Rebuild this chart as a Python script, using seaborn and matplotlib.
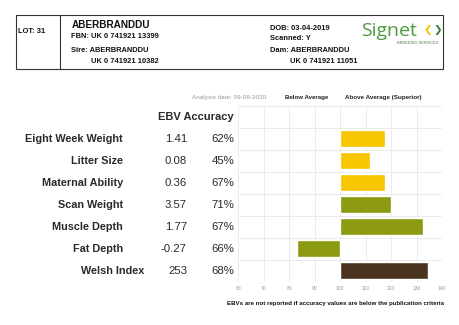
import matplotlib
matplotlib.use("Agg")
import matplotlib.pyplot as plt
import matplotlib.transforms as mtransforms
from matplotlib.patches import Rectangle
from matplotlib.lines import Line2D
from matplotlib.ticker import FixedLocator, FuncFormatter
import seaborn as sns
import pandas as pd

# ---- data ----
traits = ["Eight Week Weight", "Litter Size", "Maternal Ability", "Scan Weight",
          "Muscle Depth", "Fat Depth", "Welsh Index"]
ebv_text = ["1.41", "0.08", "0.36", "3.57", "1.77", "-0.27", "253"]
accuracy_text = ["62%", "45%", "67%", "71%", "67%", "66%", "68%"]
index_values = [117.5, 111.5, 117.5, 120, 132.5, 83, 134.5]
bar_colors = ["#F7C600", "#F7C600", "#F7C600", "#8C9A12", "#8C9A12", "#8C9A12", "#4A3420"]
x_ticks = [60, 70, 80, 90, 100, 110, 120, 130, 140]
baseline = 100

sns.set_theme(style="white")
plt.rcParams["font.family"] = ["Liberation Sans", "DejaVu Sans"]

W, H = 460, 325
fig = plt.figure(figsize=(W / 100, H / 100), dpi=100)
fig.patch.set_facecolor("white")

def fx(px):
    return px / W

def fy(py):
    return 1 - py / H

ax = fig.add_axes([fx(238.3), fy(281.7), fx(442.3) - fx(238.3), fy(105.7) - fy(281.7)])

df = pd.DataFrame({"trait": traits,
                   "dev": [v - baseline for v in index_values]})
sns.barplot(data=df, y="trait", x="dev", hue="trait", palette=bar_colors,
            orient="h", legend=False, width=0.78, ax=ax, saturation=1)

ax.set_xlim(x_ticks[0] - baseline, x_ticks[-1] - baseline)
ax.set_ylim(len(traits) - 0.5, -1.5)
ax.xaxis.set_major_locator(FixedLocator([t - baseline for t in x_ticks]))
ax.xaxis.set_major_formatter(FuncFormatter(lambda v, p: f"{v + baseline:.0f}"))
ax.yaxis.set_major_locator(FixedLocator([i - 0.5 for i in range(-1, len(traits) + 1)]))
ax.set_yticklabels([])
ax.grid(True, color="#e8e8e8", linewidth=0.6)
ax.set_axisbelow(True)
for s in ax.spines.values():
    s.set_visible(False)
ax.tick_params(axis="x", length=0, labelsize=3.6, colors="#999999", pad=3)
ax.tick_params(axis="y", length=0)
ax.set_xlabel("")
ax.set_ylabel("")

# ---- left table ----
tr = mtransforms.blended_transform_factory(fig.transFigure, ax.transData)
tcol = "#2a2a2a"
for i, (t, e, a) in enumerate(zip(traits, ebv_text, accuracy_text)):
    lx = fx(144) if t == "Welsh Index" else fx(123)
    ax.text(lx, i, t, transform=tr, ha="right", va="center", fontsize=7.8,
            fontweight="bold", color=tcol, clip_on=False)
    ax.text(fx(187), i, e, transform=tr, ha="right", va="center", fontsize=8.2,
            color=tcol, clip_on=False)
    ax.text(fx(234), i, a, transform=tr, ha="right", va="center", fontsize=8.2,
            color=tcol, clip_on=False)
ax.text(fx(234), -1, "EBV Accuracy", transform=tr, ha="right", va="center",
        fontsize=8.0, fontweight="bold", color=tcol, clip_on=False)

fig.text(fx(192), fy(97.5), "Analysis date: 09-08-2020", fontsize=4.6,
         color="#999999", va="center")
fig.text(fx(285), fy(97.5), "Below Average", fontsize=4.4, fontweight="bold",
         color="#222222", va="center")
fig.text(fx(345), fy(97.5), "Above Average (Superior)", fontsize=4.5,
         fontweight="bold", color="#222222", va="center")
fig.text(fx(336), fy(303.5),
         "EBVs are not reported if accuracy values are below the publication criteria",
         fontsize=4.4, fontweight="bold", color="#111111", va="center", ha="center")

# ---- header box ----
fig.patches.append(Rectangle((fx(16), fy(69)), fx(443) - fx(16), fy(14.7) - fy(69),
                             transform=fig.transFigure, fill=False,
                             edgecolor="#333333", linewidth=0.8))
fig.lines.append(Line2D([fx(60), fx(60)], [fy(69), fy(14.7)],
                        transform=fig.transFigure, color="#333333", linewidth=0.8))
hdr = dict(fontsize=5.4, fontweight="bold", color="#111111", va="center")
fig.text(fx(18.5), fy(31.5), "LOT: 31", **hdr)
fig.text(fx(71.5), fy(25), "ABERBRANDDU", fontsize=7.2, fontweight="bold",
         color="#111111", va="center")
fig.text(fx(71.5), fy(37), "FBN: UK 0 741921 13399", **hdr)
fig.text(fx(71.5), fy(50), "Sire: ABERBRANDDU", **hdr)
fig.text(fx(91), fy(61.5), "UK 0 741921 10382", **hdr)
fig.text(fx(270), fy(28), "DOB: 03-04-2019", **hdr)
fig.text(fx(270), fy(39), "Scanned: Y", **hdr)
fig.text(fx(270), fy(50), "Dam: ABERBRANDDU", **hdr)
fig.text(fx(290), fy(61.5), "UK 0 741921 11051", **hdr)

# Signet logo (text)
fig.text(fx(361), fy(31), "Signet", fontsize=14, color="#4E9A3E", va="center",
         family=["Open Sans", "DejaVu Sans"])
fig.text(fx(432), fy(30), "\u276E", fontsize=7.5, color="#F2C200", va="center",
         ha="right", fontweight="bold", family=["DejaVu Sans"])
fig.text(fx(433), fy(30), "\u276F", fontsize=7.5, color="#2E7D32", va="center",
         ha="left", fontweight="bold", family=["DejaVu Sans"])
fig.text(fx(439), fy(43.5), "BREEDING SERVICES", fontsize=2.8, color="#4E7A3E",
         va="center", ha="right")

fig.savefig("out.png", dpi=100, facecolor="white")
